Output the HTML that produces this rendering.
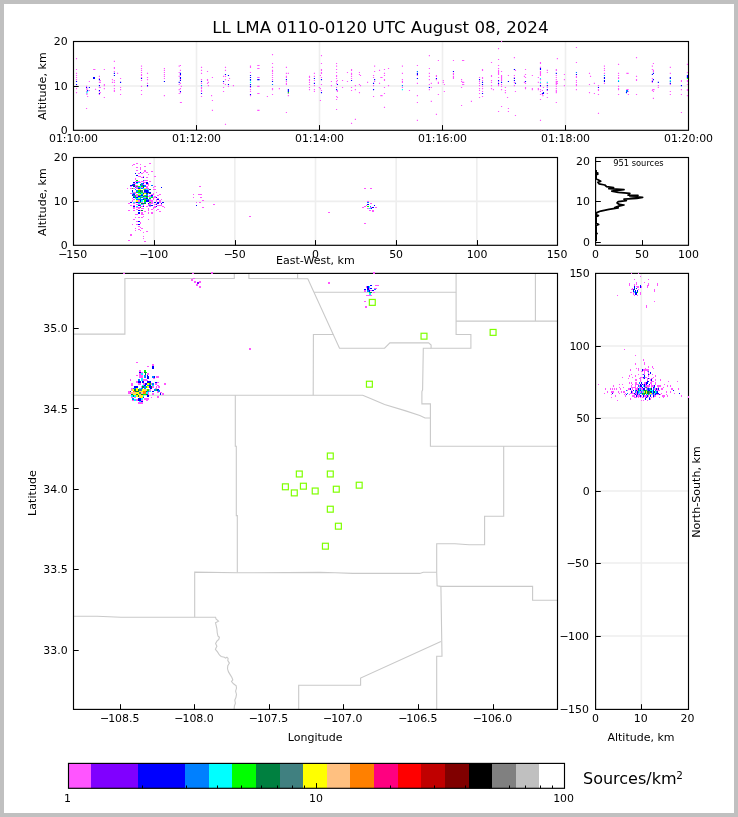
<!DOCTYPE html>
<html lang="en"><head><meta charset="utf-8"><title>LL LMA 0110-0120 UTC August 08, 2024</title>
<style>html,body{margin:0;padding:0;background:#c0c0c0}svg{display:block}text{white-space:pre}</style></head>
<body>
<svg width="738" height="817" viewBox="0 0 738 817" font-family="'DejaVu Sans', 'Liberation Sans', sans-serif" font-size="10.95" fill="#000">
<rect x="0" y="0" width="738" height="817" fill="#c0c0c0"/>
<rect x="4" y="4" width="730" height="809" fill="#fff"/>
<line x1="196.5" y1="41.5" x2="196.5" y2="130.3" stroke="#eeeeee" stroke-width="1.6"/>
<line x1="319.5" y1="41.5" x2="319.5" y2="130.3" stroke="#eeeeee" stroke-width="1.6"/>
<line x1="442.5" y1="41.5" x2="442.5" y2="130.3" stroke="#eeeeee" stroke-width="1.6"/>
<line x1="565.5" y1="41.5" x2="565.5" y2="130.3" stroke="#eeeeee" stroke-width="1.6"/>
<line x1="73.5" y1="86.05" x2="688.5" y2="86.05" stroke="#eeeeee" stroke-width="1.6"/>
<rect x="73.5" y="41.5" width="615" height="88.8" fill="none" stroke="#000" stroke-width="1.15"/>
<path fill="#ff55ff" d="M75.94 58.03h1.15v1.15h-1.15zM75.94 68.96h1.15v1.15h-1.15zM75.94 72.83h1.15v1.15h-1.15zM75.94 74.94h1.15v1.15h-1.15zM75.94 76.88h1.15v1.15h-1.15zM75.94 79h1.15v1.15h-1.15zM75.94 85.87h1.15v1.15h-1.15zM75.94 87.98h1.15v1.15h-1.15zM75.94 92.03h1.15v1.15h-1.15zM85.98 85.87h1.15v1.15h-1.15zM86.34 87.98h1.15v1.15h-1.15zM86.34 89.04h1.15v1.15h-1.15zM85.98 90.97h1.15v1.15h-1.15zM86.34 92.91h1.15v1.15h-1.15zM86.34 93.97h1.15v1.15h-1.15zM87.04 95.91h1.15v1.15h-1.15zM85.98 107.88h1.15v1.15h-1.15zM88.8 80.93h1.15v1.15h-1.15zM88.8 89.92h1.15v1.15h-1.15zM93.13 68.96h2.3v1.15h-2.3zM94.97 88.86h1.15v1.15h-1.15zM98.84 75.83h1.15v1.15h-1.15zM98.84 77.94h1.15v1.15h-1.15zM98.84 81.81h1.15v1.15h-1.15zM98.84 86.92h1.15v1.15h-1.15zM98.84 90.97h1.15v1.15h-1.15zM98.84 93.97h1.15v1.15h-1.15zM99.72 79.88h1.15v1.15h-1.15zM99.72 81.81h1.15v1.15h-1.15zM99.72 86.92h1.15v1.15h-1.15zM99.72 92.03h1.15v1.15h-1.15zM103.77 68.96h1.15v1.15h-1.15zM103.77 83.93h1.15v1.15h-1.15zM103.77 84.99h1.15v1.15h-1.15zM103.77 87.98h1.15v1.15h-1.15zM103.77 96.96h1.15v1.15h-1.15zM111.88 79h1.15v1.15h-1.15zM111.88 81.81h1.15v1.15h-1.15zM113.81 60.85h1.15v1.15h-1.15zM113.81 67.02h1.15v1.15h-1.15zM113.81 67.9h1.15v1.15h-1.15zM113.81 70.89h1.15v1.15h-1.15zM113.81 79.88h1.15v1.15h-1.15zM113.81 81.81h1.15v1.15h-1.15zM113.81 84.99h1.15v1.15h-1.15zM113.81 87.98h1.15v1.15h-1.15zM113.81 89.92h1.15v1.15h-1.15zM113.81 90.97h1.15v1.15h-1.15zM116.99 72.83h1.15v1.15h-1.15zM119.98 77.94h1.15v1.15h-1.15zM119.98 86.92h1.15v1.15h-1.15zM119.98 89.04h1.15v1.15h-1.15zM119.98 93.97h1.15v1.15h-1.15zM140.94 65.61h1.15v1.15h-1.15zM140.94 67.9h1.15v1.15h-1.15zM140.94 69.84h1.15v1.15h-1.15zM140.94 71.95h1.15v1.15h-1.15zM140.94 73.89h1.15v1.15h-1.15zM140.94 74.94h1.15v1.15h-1.15zM140.94 76.88h1.15v1.15h-1.15zM140.94 79.88h1.15v1.15h-1.15zM140.94 85.87h1.15v1.15h-1.15zM140.94 89.92h1.15v1.15h-1.15zM140.94 93.97h1.15v1.15h-1.15zM146.93 72.83h1.15v1.15h-1.15zM146.93 76.88h1.15v1.15h-1.15zM146.93 79h1.15v1.15h-1.15zM146.93 82.87h1.15v1.15h-1.15zM146.93 85.87h1.15v1.15h-1.15zM163.84 67.9h1.15v1.15h-1.15zM163.84 69.84h1.15v1.15h-1.15zM163.84 71.95h1.15v1.15h-1.15zM163.84 73.89h1.15v1.15h-1.15zM163.84 75.83h1.15v1.15h-1.15zM163.84 77.94h1.15v1.15h-1.15zM163.84 95.03h1.15v1.15h-1.15zM179.87 64.9h1.15v1.15h-1.15zM178.64 65.61h1.15v1.15h-1.15zM179.87 69.84h1.15v1.15h-1.15zM178.64 71.95h1.15v1.15h-1.15zM179.87 74.94h1.15v1.15h-1.15zM178.64 75.83h1.15v1.15h-1.15zM179.87 79h1.15v1.15h-1.15zM179.87 82.87h1.15v1.15h-1.15zM178.64 83.93h1.15v1.15h-1.15zM180.75 85.87h1.15v1.15h-1.15zM179.87 87.98h1.15v1.15h-1.15zM178.64 89.04h1.15v1.15h-1.15zM179.87 92.03h1.15v1.15h-1.15zM178.64 92.91h1.15v1.15h-1.15zM179.87 101.9h1.15v1.15h-1.15zM180.75 101.9h1.15v1.15h-1.15zM200.94 66.84h1.15v1.15h-1.15zM200.94 69.84h1.15v1.15h-1.15zM200.94 72.83h1.15v1.15h-1.15zM200.94 79h1.15v1.15h-1.15zM200.94 82.87h1.15v1.15h-1.15zM200.94 86.92h1.15v1.15h-1.15zM200.94 87.98h1.15v1.15h-1.15zM200.94 89.92h1.15v1.15h-1.15zM200.94 90.97h1.15v1.15h-1.15zM200.94 95.91h1.15v1.15h-1.15zM206.93 70.89h1.15v1.15h-1.15zM206.93 79h1.15v1.15h-1.15zM206.93 79.88h1.15v1.15h-1.15zM207.81 81.81h1.15v1.15h-1.15zM206.93 82.87h1.15v1.15h-1.15zM207.81 84.99h1.15v1.15h-1.15zM211.86 76.88h1.15v1.15h-1.15zM211.86 99.96h1.15v1.15h-1.15zM211.86 109.82h1.15v1.15h-1.15zM210.98 95.03h1.15v1.15h-1.15zM222.96 75.83h1.15v1.15h-1.15zM222.96 82.87h1.15v1.15h-1.15zM222.96 86.92h1.15v1.15h-1.15zM222.96 90.97h1.15v1.15h-1.15zM224.9 66.84h1.15v1.15h-1.15zM224.9 69.84h1.15v1.15h-1.15zM224.9 75.83h1.15v1.15h-1.15zM224.9 79h1.15v1.15h-1.15zM224.9 83.93h1.15v1.15h-1.15zM224.9 123.74h1.15v1.15h-1.15zM227.89 79.88h1.15v1.15h-1.15zM227.89 85.87h1.15v1.15h-1.15zM228.95 77.94h1.15v1.15h-1.15zM232.83 84.99h1.15v1.15h-1.15zM249.91 65.61h1.15v1.15h-1.15zM249.91 66.84h1.15v1.15h-1.15zM249.91 71.95h1.15v1.15h-1.15zM249.91 86.92h1.15v1.15h-1.15zM249.91 89.04h1.15v1.15h-1.15zM249.91 90.97h1.15v1.15h-1.15zM249.91 95.03h1.15v1.15h-1.15zM257.24 64.9h2.3v1.15h-2.3zM257.24 67.9h2.3v1.15h-2.3zM257.24 76.88h2.3v1.15h-2.3zM257.24 85.87h2.3v1.15h-2.3zM257.24 92.91h2.3v1.15h-2.3zM257.24 109.82h2.3v1.15h-2.3zM271.93 53.98h1.15v1.15h-1.15zM271.93 62.97h1.15v1.15h-1.15zM271.93 66.84h1.15v1.15h-1.15zM271.93 69.84h1.15v1.15h-1.15zM271.93 70.89h1.15v1.15h-1.15zM271.93 72.83h1.15v1.15h-1.15zM271.93 74.94h1.15v1.15h-1.15zM271.93 76.88h1.15v1.15h-1.15zM271.93 79h1.15v1.15h-1.15zM271.93 87.98h1.15v1.15h-1.15zM271.93 89.04h1.15v1.15h-1.15zM271.93 93.97h1.15v1.15h-1.15zM266.82 95.91h1.15v1.15h-1.15zM278.8 87.98h1.15v1.15h-1.15zM285.85 66.84h1.15v1.15h-1.15zM285.85 72.83h1.15v1.15h-1.15zM285.85 75.83h1.15v1.15h-1.15zM285.85 76.88h1.15v1.15h-1.15zM285.85 80.93h1.15v1.15h-1.15zM285.85 82.87h1.15v1.15h-1.15zM285.85 83.93h1.15v1.15h-1.15zM285.85 111.94h1.15v1.15h-1.15zM287.78 72.83h1.15v1.15h-1.15zM287.78 92.91h1.15v1.15h-1.15zM287.78 95.03h1.15v1.15h-1.15zM308.92 75.83h1.15v1.15h-1.15zM308.92 76.88h1.15v1.15h-1.15zM308.92 79h1.15v1.15h-1.15zM308.92 79.88h1.15v1.15h-1.15zM308.92 81.81h1.15v1.15h-1.15zM308.92 83.93h1.15v1.15h-1.15zM308.92 86.92h1.15v1.15h-1.15zM308.92 89.04h1.15v1.15h-1.15zM313.85 72.83h1.15v1.15h-1.15zM313.85 75.83h1.15v1.15h-1.15zM313.85 79.88h1.15v1.15h-1.15zM313.85 84.99h1.15v1.15h-1.15zM313.85 89.04h1.15v1.15h-1.15zM313.85 90.97h1.15v1.15h-1.15zM320.9 55.04h1.15v1.15h-1.15zM320.9 62.97h1.15v1.15h-1.15zM320.9 68.96h1.15v1.15h-1.15zM320.9 69.84h1.15v1.15h-1.15zM320.9 71.95h1.15v1.15h-1.15zM320.9 72.83h1.15v1.15h-1.15zM320.9 76.88h1.15v1.15h-1.15zM320.9 83.93h1.15v1.15h-1.15zM320.9 89.92h1.15v1.15h-1.15zM319.84 74.94h1.15v1.15h-1.15zM318.79 86.92h1.15v1.15h-1.15zM319.84 87.98h1.15v1.15h-1.15zM319.84 99.96h1.15v1.15h-1.15zM330.87 80.93h1.15v1.15h-1.15zM330.87 84.99h1.15v1.15h-1.15zM335.98 62.97h1.15v1.15h-1.15zM335.98 65.61h1.15v1.15h-1.15zM335.98 68.96h1.15v1.15h-1.15zM335.98 71.95h1.15v1.15h-1.15zM335.98 74.94h1.15v1.15h-1.15zM335.98 75.83h1.15v1.15h-1.15zM335.98 77.94h1.15v1.15h-1.15zM335.98 80.93h1.15v1.15h-1.15zM335.98 82.87h1.15v1.15h-1.15zM335.98 86.92h1.15v1.15h-1.15zM335.98 95.91h1.15v1.15h-1.15zM335.98 98.9h1.15v1.15h-1.15zM335.98 108.94h1.15v1.15h-1.15zM336.86 79.88h1.15v1.15h-1.15zM336.86 89.92h1.15v1.15h-1.15zM336.86 90.97h1.15v1.15h-1.15zM336.86 96.96h1.15v1.15h-1.15zM341.97 79.88h1.15v1.15h-1.15zM341.97 86.92h1.15v1.15h-1.15zM346.9 71.95h1.15v1.15h-1.15zM346.9 80.93h1.15v1.15h-1.15zM350.96 68.96h1.15v1.15h-1.15zM350.96 69.84h1.15v1.15h-1.15zM350.96 72.83h1.15v1.15h-1.15zM350.96 73.89h1.15v1.15h-1.15zM350.96 75.83h1.15v1.15h-1.15zM350.96 77.94h1.15v1.15h-1.15zM350.96 86.92h1.15v1.15h-1.15zM350.96 89.92h1.15v1.15h-1.15zM350.96 122.86h1.15v1.15h-1.15zM354.83 84.99h1.15v1.15h-1.15zM354.83 89.04h1.15v1.15h-1.15zM354.83 118.81h1.15v1.15h-1.15zM358.88 71.95h1.15v1.15h-1.15zM358.88 73.89h1.15v1.15h-1.15zM359.94 74.94h1.15v1.15h-1.15zM358.88 83.93h1.15v1.15h-1.15zM359.94 84.99h1.15v1.15h-1.15zM358.88 92.03h1.15v1.15h-1.15zM366.99 81.81h1.15v1.15h-1.15zM374.03 65.61h1.15v1.15h-1.15zM374.03 70.89h1.15v1.15h-1.15zM372.97 74.94h1.15v1.15h-1.15zM372.97 76.88h1.15v1.15h-1.15zM374.03 80.93h1.15v1.15h-1.15zM372.97 84.99h1.15v1.15h-1.15zM372.97 95.91h1.15v1.15h-1.15zM378.96 69.84h1.15v1.15h-1.15zM378.96 82.87h1.15v1.15h-1.15zM380.3 76.88h2.3v1.15h-2.3zM380.3 95.03h2.3v1.15h-2.3zM383.9 68.96h1.15v1.15h-1.15zM383.9 72.83h1.15v1.15h-1.15zM383.9 74.94h1.15v1.15h-1.15zM383.9 79h1.15v1.15h-1.15zM383.9 79.88h1.15v1.15h-1.15zM383.9 86.92h1.15v1.15h-1.15zM383.9 92.91h1.15v1.15h-1.15zM383.9 106.83h1.15v1.15h-1.15zM387.95 67.9h1.15v1.15h-1.15zM387.95 84.99h1.15v1.15h-1.15zM401.86 65.61h1.15v1.15h-1.15zM401.86 72.83h1.15v1.15h-1.15zM401.86 79h1.15v1.15h-1.15zM401.86 80.93h1.15v1.15h-1.15zM401.86 81.81h1.15v1.15h-1.15zM401.86 86.92h1.15v1.15h-1.15zM408.91 89.92h1.15v1.15h-1.15zM416.84 64.9h1.15v1.15h-1.15zM416.84 74.94h1.15v1.15h-1.15zM416.84 82.87h1.15v1.15h-1.15zM416.84 95.03h1.15v1.15h-1.15zM416.84 101.9h1.15v1.15h-1.15zM416.84 119.86h1.15v1.15h-1.15zM428.81 55.04h1.15v1.15h-1.15zM428.81 67.9h1.15v1.15h-1.15zM428.81 72.83h1.15v1.15h-1.15zM428.81 75.83h1.15v1.15h-1.15zM428.81 79h1.15v1.15h-1.15zM428.81 83.93h1.15v1.15h-1.15zM428.81 89.04h1.15v1.15h-1.15zM430.75 82.87h1.15v1.15h-1.15zM430.75 86.92h1.15v1.15h-1.15zM430.75 100.84h1.15v1.15h-1.15zM435.86 74.94h1.15v1.15h-1.15zM435.86 75.83h1.15v1.15h-1.15zM435.86 79h1.15v1.15h-1.15zM435.86 113.87h1.15v1.15h-1.15zM437.8 59.97h1.15v1.15h-1.15zM437.8 81.81h1.15v1.15h-1.15zM437.8 82.87h1.15v1.15h-1.15zM437.8 93.97h1.15v1.15h-1.15zM442.73 79.88h1.15v1.15h-1.15zM442.73 81.81h1.15v1.15h-1.15zM443.79 83.93h1.15v1.15h-1.15zM443.79 90.97h1.15v1.15h-1.15zM452.88 59.97h1.15v1.15h-1.15zM452.88 72.83h1.15v1.15h-1.15zM452.88 73.89h1.15v1.15h-1.15zM452.88 75.83h1.15v1.15h-1.15zM452.88 76.88h1.15v1.15h-1.15zM452.88 77.94h1.15v1.15h-1.15zM461.96 59.97h2.3v1.15h-2.3zM460.98 79h1.15v1.15h-1.15zM460.98 80.93h1.15v1.15h-1.15zM461.96 81.81h2.3v1.15h-2.3zM461.96 83.93h2.3v1.15h-2.3zM460.98 86.92h1.15v1.15h-1.15zM460.98 104.89h1.15v1.15h-1.15zM470.85 100.84h1.15v1.15h-1.15zM478.95 76.88h1.15v1.15h-1.15zM478.95 80.93h1.15v1.15h-1.15zM478.95 82.87h1.15v1.15h-1.15zM478.95 84.99h1.15v1.15h-1.15zM478.95 87.98h1.15v1.15h-1.15zM478.95 89.92h1.15v1.15h-1.15zM478.95 92.91h1.15v1.15h-1.15zM478.95 96.96h1.15v1.15h-1.15zM481.94 68.96h1.15v1.15h-1.15zM481.94 69.84h1.15v1.15h-1.15zM481.94 76.88h1.15v1.15h-1.15zM481.94 77.94h1.15v1.15h-1.15zM481.94 79.88h1.15v1.15h-1.15zM481.94 85.87h1.15v1.15h-1.15zM481.94 87.98h1.15v1.15h-1.15zM481.94 90.97h1.15v1.15h-1.15zM481.94 95.91h1.15v1.15h-1.15zM490.93 61.91h1.15v1.15h-1.15zM490.93 74.94h1.15v1.15h-1.15zM490.93 75.83h1.15v1.15h-1.15zM490.93 79.88h1.15v1.15h-1.15zM490.93 81.81h1.15v1.15h-1.15zM490.93 84.99h1.15v1.15h-1.15zM490.93 87.98h1.15v1.15h-1.15zM492.87 89.04h1.15v1.15h-1.15zM497.97 47.99h1.15v1.15h-1.15zM497.97 58.92h1.15v1.15h-1.15zM497.97 64.9h1.15v1.15h-1.15zM497.97 67.9h1.15v1.15h-1.15zM497.97 69.84h1.15v1.15h-1.15zM497.97 70.89h1.15v1.15h-1.15zM497.97 71.95h1.15v1.15h-1.15zM497.97 72.83h1.15v1.15h-1.15zM497.97 73.89h1.15v1.15h-1.15zM497.97 76.88h1.15v1.15h-1.15zM497.97 80.93h1.15v1.15h-1.15zM497.97 83.93h1.15v1.15h-1.15zM497.97 84.99h1.15v1.15h-1.15zM497.97 110.88h1.15v1.15h-1.15zM500.97 40.95h1.15v1.15h-1.15zM500.97 70.89h1.15v1.15h-1.15zM500.97 74.94h1.15v1.15h-1.15zM500.97 75.83h1.15v1.15h-1.15zM500.97 76.88h1.15v1.15h-1.15zM500.97 77.94h1.15v1.15h-1.15zM500.97 79h1.15v1.15h-1.15zM500.97 79.88h1.15v1.15h-1.15zM500.97 83.93h1.15v1.15h-1.15zM500.97 85.87h1.15v1.15h-1.15zM500.97 89.04h1.15v1.15h-1.15zM500.97 105.95h1.15v1.15h-1.15zM504.84 86.92h1.15v1.15h-1.15zM504.84 89.92h1.15v1.15h-1.15zM504.84 92.03h1.15v1.15h-1.15zM506.96 96.96h1.15v1.15h-1.15zM507.84 74.94h1.15v1.15h-1.15zM507.84 107.88h1.15v1.15h-1.15zM507.84 110.88h1.15v1.15h-1.15zM513.83 56.98h1.15v1.15h-1.15zM514.88 69.84h1.15v1.15h-1.15zM513.83 74.94h1.15v1.15h-1.15zM513.83 76.88h1.15v1.15h-1.15zM513.83 81.81h1.15v1.15h-1.15zM513.83 84.99h1.15v1.15h-1.15zM514.88 90.97h1.15v1.15h-1.15zM514.88 114.93h1.15v1.15h-1.15zM524.93 68.96h1.15v1.15h-1.15zM524.93 73.89h1.15v1.15h-1.15zM523.87 75.83h1.15v1.15h-1.15zM524.93 76.88h1.15v1.15h-1.15zM523.87 81.81h1.15v1.15h-1.15zM524.93 82.87h1.15v1.15h-1.15zM524.93 86.92h1.15v1.15h-1.15zM524.93 87.98h1.15v1.15h-1.15zM531.8 74.94h1.15v1.15h-1.15zM531.8 87.98h1.15v1.15h-1.15zM531.8 89.04h1.15v1.15h-1.15zM537.78 76.88h1.15v1.15h-1.15zM537.78 81.81h1.15v1.15h-1.15zM537.78 87.98h1.15v1.15h-1.15zM537.78 89.04h1.15v1.15h-1.15zM539.9 61.91h1.15v1.15h-1.15zM539.9 62.97h1.15v1.15h-1.15zM539.9 66.84h1.15v1.15h-1.15zM539.9 70.89h1.15v1.15h-1.15zM539.9 71.95h1.15v1.15h-1.15zM539.9 72.83h1.15v1.15h-1.15zM539.9 73.89h1.15v1.15h-1.15zM539.9 74.94h1.15v1.15h-1.15zM539.9 79h1.15v1.15h-1.15zM539.9 82.87h1.15v1.15h-1.15zM539.9 85.87h1.15v1.15h-1.15zM539.9 89.04h1.15v1.15h-1.15zM539.9 90.97h1.15v1.15h-1.15zM539.9 93.97h1.15v1.15h-1.15zM539.9 98.9h1.15v1.15h-1.15zM539.9 119.86h1.15v1.15h-1.15zM542.89 86.92h1.15v1.15h-1.15zM541.84 89.92h1.15v1.15h-1.15zM541.84 93.97h1.15v1.15h-1.15zM542.36 95.03h1.15v1.15h-1.15zM546.77 69.84h1.15v1.15h-1.15zM546.77 71.95h1.15v1.15h-1.15zM546.77 82.87h1.15v1.15h-1.15zM546.77 86.92h1.15v1.15h-1.15zM546.77 89.92h1.15v1.15h-1.15zM546.77 92.91h1.15v1.15h-1.15zM546.77 96.96h1.15v1.15h-1.15zM555.75 68.96h1.15v1.15h-1.15zM555.75 69.84h1.15v1.15h-1.15zM555.75 74.94h1.15v1.15h-1.15zM555.75 76.88h1.15v1.15h-1.15zM555.75 79h1.15v1.15h-1.15zM555.68 80.93h2.3v1.15h-2.3zM555.75 81.81h1.15v1.15h-1.15zM555.68 82.87h2.3v1.15h-2.3zM555.75 83.93h1.15v1.15h-1.15zM555.75 85.87h1.15v1.15h-1.15zM555.75 87.98h1.15v1.15h-1.15zM555.75 89.92h1.15v1.15h-1.15zM555.75 90.97h1.15v1.15h-1.15zM555.75 92.03h1.15v1.15h-1.15zM555.75 101.9h1.15v1.15h-1.15zM556.81 58.03h1.15v1.15h-1.15zM563.85 73.89h1.15v1.15h-1.15zM563.85 79h1.15v1.15h-1.15zM563.85 84.99h1.15v1.15h-1.15zM575.87 46.94h1.15v1.15h-1.15zM575.87 61.91h1.15v1.15h-1.15zM575.87 75.83h1.15v1.15h-1.15zM575.87 76.88h1.15v1.15h-1.15zM575.87 79.88h1.15v1.15h-1.15zM575.87 81.81h1.15v1.15h-1.15zM575.87 83.93h1.15v1.15h-1.15zM575.87 84.99h1.15v1.15h-1.15zM575.87 89.04h1.15v1.15h-1.15zM588.91 72.83h1.15v1.15h-1.15zM588.91 83.93h1.15v1.15h-1.15zM588.91 92.03h1.15v1.15h-1.15zM589.97 75.83h1.15v1.15h-1.15zM593.84 82.87h1.15v1.15h-1.15zM593.84 92.91h1.15v1.15h-1.15zM597.89 84.99h1.15v1.15h-1.15zM597.89 89.04h1.15v1.15h-1.15zM597.89 89.92h1.15v1.15h-1.15zM597.89 93.97h1.15v1.15h-1.15zM597.89 112.82h1.15v1.15h-1.15zM603.88 65.61h1.15v1.15h-1.15zM603.88 67.9h1.15v1.15h-1.15zM603.88 69.84h1.15v1.15h-1.15zM603.88 72.83h1.15v1.15h-1.15zM603.88 82.87h1.15v1.15h-1.15zM617.97 63.85h1.15v1.15h-1.15zM617.97 72.83h1.15v1.15h-1.15zM617.97 74.94h1.15v1.15h-1.15zM617.97 76.88h1.15v1.15h-1.15zM617.97 77.94h1.15v1.15h-1.15zM617.97 85.87h1.15v1.15h-1.15zM617.97 87.98h1.15v1.15h-1.15zM617.97 89.04h1.15v1.15h-1.15zM617.97 93.97h1.15v1.15h-1.15zM626.35 72.83h2.3v1.15h-2.3zM626.35 89.04h2.3v1.15h-2.3zM627.84 90.97h1.15v1.15h-1.15zM627.84 93.97h1.15v1.15h-1.15zM635.94 56.98h1.15v1.15h-1.15zM635.94 75.83h1.15v1.15h-1.15zM635.94 79h1.15v1.15h-1.15zM635.94 79.88h1.15v1.15h-1.15zM635.94 93.97h1.15v1.15h-1.15zM652.85 62.97h1.15v1.15h-1.15zM651.8 65.61h1.15v1.15h-1.15zM651.8 68.96h1.15v1.15h-1.15zM652.85 69.84h1.15v1.15h-1.15zM652.85 70.89h1.15v1.15h-1.15zM651.8 77.94h1.15v1.15h-1.15zM651.8 79.88h1.15v1.15h-1.15zM651.8 81.81h1.15v1.15h-1.15zM652.25 89.04h2.3v1.15h-2.3zM651.8 89.92h1.15v1.15h-1.15zM652.85 90.97h1.15v1.15h-1.15zM652.85 97.84h1.15v1.15h-1.15zM657.78 84.99h1.15v1.15h-1.15zM657.78 86.92h1.15v1.15h-1.15zM669.76 66.84h1.15v1.15h-1.15zM669.76 72.83h1.15v1.15h-1.15zM669.76 83.93h1.15v1.15h-1.15zM669.76 90.97h1.15v1.15h-1.15zM669.76 93.97h1.15v1.15h-1.15zM680.86 79.88h1.15v1.15h-1.15zM680.86 80.93h1.15v1.15h-1.15zM680.86 89.04h1.15v1.15h-1.15zM680.86 93.97h1.15v1.15h-1.15zM680.86 111.94h1.15v1.15h-1.15zM686.85 63.85h1.15v1.15h-1.15zM686.85 71.95h1.15v1.15h-1.15zM686.85 79.88h1.15v1.15h-1.15zM686.85 80.93h1.15v1.15h-1.15zM686.85 83.93h1.15v1.15h-1.15zM686.85 89.04h1.15v1.15h-1.15zM686.85 89.92h1.15v1.15h-1.15zM686.85 95.03h1.15v1.15h-1.15z"/>
<path fill="#0000ff" d="M75.94 80.93h1.15v1.15h-1.15zM75.94 83.93h1.15v1.15h-1.15zM85.98 86.92h1.15v1.15h-1.15zM87.04 89.92h1.15v1.15h-1.15zM88.8 86.92h1.15v1.15h-1.15zM98.84 79h1.15v1.15h-1.15zM98.84 84.99h1.15v1.15h-1.15zM98.84 89.92h1.15v1.15h-1.15zM98.84 92.91h1.15v1.15h-1.15zM113.81 72.83h1.15v1.15h-1.15zM113.81 74.94h1.15v1.15h-1.15zM119.98 81.81h1.15v1.15h-1.15zM140.94 77.94h1.15v1.15h-1.15zM146.93 84.99h1.15v1.15h-1.15zM163.84 80.93h1.15v1.15h-1.15zM179.87 72.83h1.15v1.15h-1.15zM179.87 73.89h1.15v1.15h-1.15zM179.87 76.88h1.15v1.15h-1.15zM179.87 77.94h1.15v1.15h-1.15zM179.87 79.88h1.15v1.15h-1.15zM178.64 81.81h1.15v1.15h-1.15zM179.87 90.97h1.15v1.15h-1.15zM200.94 80.93h1.15v1.15h-1.15zM200.94 92.91h1.15v1.15h-1.15zM222.96 80.93h1.15v1.15h-1.15zM224.9 73.89h1.15v1.15h-1.15zM227.89 74.94h1.15v1.15h-1.15zM227.89 83.93h1.15v1.15h-1.15zM249.91 74.94h1.15v1.15h-1.15zM249.91 76.88h1.15v1.15h-1.15zM249.91 79h1.15v1.15h-1.15zM249.91 83.93h1.15v1.15h-1.15zM249.91 85.87h1.15v1.15h-1.15zM249.91 93.97h1.15v1.15h-1.15zM257.24 79h2.3v1.15h-2.3zM271.93 80.93h1.15v1.15h-1.15zM285.85 79h1.15v1.15h-1.15zM287.78 89.04h1.15v1.15h-1.15zM287.78 89.92h1.15v1.15h-1.15zM287.78 90.97h1.15v1.15h-1.15zM313.85 77.94h1.15v1.15h-1.15zM313.85 82.87h1.15v1.15h-1.15zM320.9 79h1.15v1.15h-1.15zM320.9 92.03h1.15v1.15h-1.15zM335.98 89.04h1.15v1.15h-1.15zM336.86 83.93h1.15v1.15h-1.15zM350.96 79.88h1.15v1.15h-1.15zM374.03 79h1.15v1.15h-1.15zM372.97 82.87h1.15v1.15h-1.15zM372.97 89.04h1.15v1.15h-1.15zM416.84 72.83h1.15v1.15h-1.15zM416.84 73.89h1.15v1.15h-1.15zM416.84 77.94h1.15v1.15h-1.15zM428.81 86.92h1.15v1.15h-1.15zM435.86 77.94h1.15v1.15h-1.15zM452.88 70.89h1.15v1.15h-1.15zM478.95 79h1.15v1.15h-1.15zM481.94 81.81h1.15v1.15h-1.15zM481.94 83.93h1.15v1.15h-1.15zM481.94 92.91h1.15v1.15h-1.15zM497.97 79.88h1.15v1.15h-1.15zM497.97 82.87h1.15v1.15h-1.15zM500.97 81.81h1.15v1.15h-1.15zM507.84 80.93h1.15v1.15h-1.15zM513.83 68.96h1.15v1.15h-1.15zM513.83 77.94h1.15v1.15h-1.15zM513.83 79.88h1.15v1.15h-1.15zM514.88 82.87h1.15v1.15h-1.15zM524.93 80.93h1.15v1.15h-1.15zM539.9 67.9h1.15v1.15h-1.15zM539.9 68.96h1.15v1.15h-1.15zM539.9 84.99h1.15v1.15h-1.15zM542.89 92.03h1.15v1.15h-1.15zM541.84 92.91h1.15v1.15h-1.15zM542.89 92.91h1.15v1.15h-1.15zM546.77 84.99h1.15v1.15h-1.15zM546.77 89.04h1.15v1.15h-1.15zM555.75 72.83h1.15v1.15h-1.15zM575.87 73.89h1.15v1.15h-1.15zM597.89 86.92h1.15v1.15h-1.15zM603.88 76.88h1.15v1.15h-1.15zM603.88 77.94h1.15v1.15h-1.15zM603.88 79.88h1.15v1.15h-1.15zM603.88 80.93h1.15v1.15h-1.15zM625.9 92.03h1.15v1.15h-1.15zM652.85 72.83h1.15v1.15h-1.15zM651.8 73.89h1.15v1.15h-1.15zM652.85 79h1.15v1.15h-1.15zM651.8 80.93h1.15v1.15h-1.15zM657.78 81.81h1.15v1.15h-1.15zM669.76 76.88h1.15v1.15h-1.15zM669.76 77.94h1.15v1.15h-1.15zM669.76 82.87h1.15v1.15h-1.15zM680.86 84.99h1.15v1.15h-1.15zM686.85 74.94h1.15v1.15h-1.15zM686.85 75.83h1.15v1.15h-1.15zM686.85 76.88h1.15v1.15h-1.15z"/>
<path fill="#00ffff" d="M87.04 90.97h1.15v1.15h-1.15zM86.34 92.03h1.15v1.15h-1.15zM249.91 81.81h1.15v1.15h-1.15zM401.86 89.04h1.15v1.15h-1.15zM539.9 77.94h1.15v1.15h-1.15zM539.9 81.81h1.15v1.15h-1.15zM546.77 81.81h1.15v1.15h-1.15zM617.97 79.88h1.15v1.15h-1.15zM669.76 79.88h1.15v1.15h-1.15z"/>
<path fill="#0080ff" d="M200.94 84.99h1.15v1.15h-1.15zM249.91 79.88h1.15v1.15h-1.15zM271.93 83.93h1.15v1.15h-1.15zM401.86 84.99h1.15v1.15h-1.15zM416.84 70.89h1.15v1.15h-1.15zM575.87 71.95h1.15v1.15h-1.15zM603.88 74.94h1.15v1.15h-1.15zM617.97 80.93h1.15v1.15h-1.15zM669.76 80.93h1.15v1.15h-1.15z"/>
<path fill="#00ff00" d="M287.78 92.03h1.15v1.15h-1.15zM686.85 77.94h1.15v1.15h-1.15z"/>
<path fill="#0000ff" shape-rendering="crispEdges" d="M92.68 76.89h2.2v2.2h-2.2z"/>
<path fill="#0080ff" shape-rendering="crispEdges" d="M625.9 89.92h2.2v2.2h-2.2z"/>
<text x="73.5" y="142.2" text-anchor="middle">01:10:00</text>
<line x1="196.5" y1="130.3" x2="196.5" y2="125.1" stroke="#000" stroke-width="1"/>
<text x="196.5" y="142.2" text-anchor="middle">01:12:00</text>
<line x1="319.5" y1="130.3" x2="319.5" y2="125.1" stroke="#000" stroke-width="1"/>
<text x="319.5" y="142.2" text-anchor="middle">01:14:00</text>
<line x1="442.5" y1="130.3" x2="442.5" y2="125.1" stroke="#000" stroke-width="1"/>
<text x="442.5" y="142.2" text-anchor="middle">01:16:00</text>
<line x1="565.5" y1="130.3" x2="565.5" y2="125.1" stroke="#000" stroke-width="1"/>
<text x="565.5" y="142.2" text-anchor="middle">01:18:00</text>
<text x="688.5" y="142.2" text-anchor="middle">01:20:00</text>
<text x="67.7" y="134" text-anchor="end">0</text>
<line x1="73.5" y1="86.5" x2="78.7" y2="86.5" stroke="#000" stroke-width="1"/>
<text x="67.7" y="90.05" text-anchor="end">10</text>
<text x="67.7" y="45.2" text-anchor="end">20</text>
<text x="45.8" y="86.1" text-anchor="middle" font-size="11.11" transform="rotate(-90 45.8 86.1)">Altitude, km</text>
<text x="380.4" y="33.1" text-anchor="middle" font-size="16.67">LL LMA 0110-0120 UTC August 08, 2024</text>
<line x1="154.17" y1="157.5" x2="154.17" y2="245.3" stroke="#eeeeee" stroke-width="1.6"/>
<line x1="234.83" y1="157.5" x2="234.83" y2="245.3" stroke="#eeeeee" stroke-width="1.6"/>
<line x1="315.5" y1="157.5" x2="315.5" y2="245.3" stroke="#eeeeee" stroke-width="1.6"/>
<line x1="396.17" y1="157.5" x2="396.17" y2="245.3" stroke="#eeeeee" stroke-width="1.6"/>
<line x1="476.83" y1="157.5" x2="476.83" y2="245.3" stroke="#eeeeee" stroke-width="1.6"/>
<line x1="73.5" y1="201.4" x2="557.5" y2="201.4" stroke="#eeeeee" stroke-width="1.6"/>
<rect x="73.5" y="157.5" width="484" height="87.8" fill="none" stroke="#000" stroke-width="1.15"/>
<path fill="#008040" shape-rendering="crispEdges" d="M149 189h2v1h-2zM141 203h2v1h-2zM143 196h1v1h-1zM149 193h2v1h-2zM133 185h2v1h-2zM143 193h1v1h-1zM140 190h1v2h-1zM140 184h1v1h-1zM143 203h1v1h-1zM146 196h2v1h-2zM146 193h2v1h-2zM143 186h1v1h-1zM144 203h2v1h-2zM141 210h2v1h-2z"/>
<path fill="#00ff00" shape-rendering="crispEdges" d="M138 186h2v1h-2zM138 190h2v2h-2zM135 197h1v1h-1zM140 207h1v1h-1zM136 180h2v1h-2zM149 198h2v1h-2zM141 192h2v1h-2zM140 197h1v1h-1zM144 199h2v1h-2zM136 192h2v1h-2zM146 197h2v1h-2zM144 196h2v1h-2zM140 193h1v1h-1zM144 200h2v2h-2zM151 197h2v1h-2zM132 188h1v1h-1zM141 186h2v1h-2zM138 195h2v1h-2zM135 196h1v1h-1zM149 202h2v1h-2zM140 202h1v1h-1z"/>
<path fill="#ff55ff" shape-rendering="crispEdges" d="M136 188h2v1h-2zM141 212h2v2h-2zM141 202h2v1h-2zM146 187h2v1h-2zM130 186h2v1h-2zM144 211h2v1h-2zM146 180h2v1h-2zM149 206h2v1h-2zM135 185h1v1h-1zM135 202h1v1h-1zM148 188h1v1h-1zM148 174h1v1h-1zM132 193h1v1h-1zM138 200h2v2h-2zM148 204h1v1h-1zM136 195h2v1h-2zM151 203h2v1h-2zM138 176h2v1h-2zM138 208h2v1h-2zM132 200h1v2h-1zM143 176h1v1h-1zM140 206h1v1h-1zM149 200h2v2h-2zM136 187h2v1h-2zM135 192h1v1h-1zM132 198h1v1h-1zM130 188h2v1h-2zM141 187h2v1h-2zM135 186h1v1h-1zM138 204h2v1h-2zM149 196h2v1h-2zM136 194h2v1h-2zM143 182h1v1h-1zM144 197h2v1h-2zM148 189h1v1h-1zM130 205h2v1h-2zM146 186h2v1h-2zM148 193h1v1h-1zM140 204h1v1h-1zM153 197h1v1h-1zM136 204h2v1h-2zM151 212h2v2h-2zM148 219h1v1h-1zM133 199h2v1h-2zM136 185h2v1h-2zM128 203h2v1h-2zM146 188h2v1h-2zM148 196h1v1h-1zM141 181h2v1h-2zM135 183h1v1h-1zM133 183h2v1h-2zM140 182h1v1h-1zM148 205h1v1h-1zM148 184h1v1h-1zM153 193h1v1h-1zM149 203h2v1h-2zM141 206h2v1h-2zM148 185h1v1h-1zM133 207h2v1h-2zM143 208h1v1h-1zM148 210h1v1h-1zM156 192h1v1h-1zM153 187h1v1h-1zM136 207h2v1h-2zM136 196h2v1h-2zM144 180h2v1h-2zM143 184h1v1h-1zM154 189h2v1h-2zM149 195h2v1h-2zM135 193h1v1h-1zM135 181h1v1h-1zM143 205h1v1h-1zM149 204h2v1h-2zM151 209h2v1h-2zM148 212h1v2h-1zM128 210h2v1h-2zM156 210h1v1h-1zM138 173h2v1h-2zM149 163h2v1h-2zM154 196h2v1h-2zM148 208h1v1h-1zM146 206h2v1h-2zM151 200h2v2h-2zM133 203h2v1h-2zM133 192h2v1h-2zM143 192h1v1h-1zM149 199h2v1h-2zM141 217h2v1h-2zM146 184h2v1h-2zM159 200h2v2h-2zM153 207h1v1h-1zM154 207h2v1h-2zM153 189h1v1h-1zM130 193h2v1h-2zM141 208h2v1h-2zM154 186h2v1h-2zM136 209h2v1h-2zM151 194h2v1h-2zM148 209h1v1h-1zM154 176h2v1h-2zM136 181h2v1h-2zM135 178h1v2h-1zM133 188h2v1h-2zM153 198h1v1h-1zM127 188h1v1h-1zM151 202h2v1h-2zM149 181h2v1h-2zM133 208h2v1h-2zM132 165h1v1h-1zM146 172h2v1h-2zM136 163h2v1h-2zM151 171h2v1h-2zM140 164h1v1h-1zM136 170h2v1h-2zM144 182h2v1h-2zM138 181h2v1h-2zM140 168h1v2h-1zM141 173h2v1h-2zM144 170h2v1h-2zM140 167h1v1h-1zM144 166h2v1h-2zM143 181h1v1h-1zM146 177h2v1h-2zM140 176h1v1h-1zM141 177h2v1h-2zM148 183h1v1h-1zM143 172h1v1h-1zM136 167h2v1h-2zM144 171h2v1h-2zM133 164h2v1h-2zM140 222h1v2h-1zM143 214h1v1h-1zM144 241h2v1h-2zM135 217h1v1h-1zM135 228h1v1h-1zM138 207h2v1h-2zM133 210h2v1h-2zM138 217h2v1h-2zM141 228h2v1h-2zM140 227h1v1h-1zM132 224h1v1h-1zM133 205h2v1h-2zM146 231h2v1h-2zM135 214h1v1h-1zM143 236h1v1h-1zM143 238h1v1h-1zM138 229h2v1h-2zM135 230h1v1h-1zM140 210h1v1h-1zM140 230h1v1h-1zM136 214h2v1h-2zM133 219h2v1h-2zM136 224h2v1h-2zM130 234h2v2h-2zM138 226h2v1h-2zM136 221h2v1h-2zM128 240h2v1h-2zM143 216h1v1h-1zM143 232h1v1h-1zM143 204h1v1h-1zM141 214h2v1h-2zM164 207h1v1h-1zM153 194h1v1h-1zM154 204h2v1h-2zM159 202h2v1h-2zM157 205h2v1h-2zM153 208h1v1h-1zM153 199h1v1h-1zM159 194h2v1h-2zM154 206h2v1h-2zM157 198h2v1h-2zM161 204h1v1h-1zM156 200h1v2h-1zM157 209h2v1h-2zM161 205h1v1h-1zM159 205h2v1h-2zM159 211h2v1h-2zM161 199h1v1h-1zM157 195h2v1h-2zM156 203h1v1h-1zM162 206h2v1h-2zM156 199h1v1h-1zM154 197h2v1h-2z"/>
<path fill="#408080" shape-rendering="crispEdges" d="M141 190h2v2h-2zM133 195h2v1h-2zM136 186h2v1h-2zM138 192h2v1h-2zM141 185h2v1h-2zM141 197h2v1h-2z"/>
<path fill="#0000ff" shape-rendering="crispEdges" d="M132 190h1v2h-1zM133 194h2v1h-2zM143 183h1v1h-1zM138 196h2v1h-2zM130 185h2v1h-2zM132 195h1v1h-1zM151 195h2v1h-2zM138 188h2v1h-2zM141 195h2v1h-2zM148 200h1v2h-1zM133 184h2v1h-2zM148 192h1v1h-1zM149 192h2v1h-2zM133 197h2v1h-2zM143 187h1v1h-1zM136 175h2v1h-2zM146 198h2v1h-2zM136 197h2v1h-2zM136 202h2v1h-2zM144 190h2v2h-2zM143 199h1v1h-1zM146 190h2v2h-2zM136 182h2v1h-2zM132 185h1v1h-1zM146 183h2v1h-2zM133 186h2v1h-2zM133 182h2v1h-2zM138 205h2v1h-2zM140 200h1v2h-1zM143 185h1v1h-1zM146 192h2v1h-2zM143 206h1v1h-1zM130 202h2v1h-2zM133 206h2v1h-2zM146 182h2v1h-2zM138 212h2v2h-2zM154 202h2v1h-2zM161 187h1v1h-1zM140 172h1v1h-1zM135 173h1v1h-1zM143 177h1v1h-1zM151 205h2v1h-2zM148 203h1v1h-1zM146 200h2v2h-2zM138 210h2v1h-2zM138 224h2v1h-2zM138 221h2v1h-2zM157 203h2v1h-2zM156 204h1v1h-1zM162 202h2v1h-2zM156 206h1v1h-1zM161 203h1v1h-1zM157 202h2v1h-2zM157 199h2v1h-2zM156 197h1v1h-1z"/>
<path fill="#00ffff" shape-rendering="crispEdges" d="M146 189h2v1h-2zM143 188h1v1h-1zM140 186h1v1h-1zM141 196h2v1h-2zM138 193h2v1h-2zM136 206h2v1h-2zM141 193h2v1h-2zM141 200h2v2h-2zM140 188h1v1h-1zM143 197h1v1h-1zM149 197h2v1h-2zM132 192h1v1h-1zM133 202h2v1h-2zM141 204h2v1h-2zM138 203h2v1h-2zM140 187h1v1h-1zM138 197h2v1h-2zM135 198h1v1h-1zM138 182h2v1h-2zM136 198h2v1h-2zM136 183h2v1h-2z"/>
<path fill="#ffff00" shape-rendering="crispEdges" d="M138 198h2v1h-2zM138 189h2v1h-2zM143 189h1v1h-1zM140 189h1v1h-1zM138 194h2v1h-2zM140 194h1v1h-1zM143 194h1v1h-1zM144 193h2v1h-2zM136 200h2v2h-2zM144 188h2v1h-2zM143 195h1v1h-1z"/>
<path fill="#0080ff" shape-rendering="crispEdges" d="M140 195h1v1h-1zM140 198h1v1h-1zM141 199h2v1h-2zM133 193h2v1h-2zM151 185h2v1h-2zM140 196h1v1h-1zM146 194h2v1h-2zM148 199h1v1h-1zM149 205h2v1h-2zM132 194h1v1h-1zM143 180h1v1h-1zM132 184h1v1h-1zM144 195h2v1h-2zM144 202h2v1h-2zM140 185h1v1h-1zM144 189h2v1h-2zM138 199h2v1h-2zM135 187h1v1h-1zM141 184h2v1h-2zM143 198h1v1h-1zM141 188h2v1h-2zM136 190h2v2h-2zM135 189h1v1h-1zM140 192h1v1h-1zM133 196h2v1h-2zM141 194h2v1h-2zM146 195h2v1h-2zM146 199h2v1h-2zM144 185h2v1h-2zM138 187h2v1h-2zM140 205h1v1h-1zM135 195h1v1h-1zM144 192h2v1h-2zM140 199h1v1h-1zM144 186h2v1h-2zM148 190h1v2h-1zM136 199h2v1h-2zM138 202h2v1h-2zM144 198h2v1h-2zM141 183h2v1h-2zM151 196h2v1h-2z"/>
<path fill="#ff55ff" shape-rendering="crispEdges" d="M198.8 185.8h1.8v1h-1.8zM192.6 193.8h1.8v1h-1.8zM198.4 193.8h1.8v1h-1.8zM200 193.8h1.8v1h-1.8zM192.6 196.8h1.8v1h-1.8zM200.3 196.8h1.8v1h-1.8zM202.1 199.8h1.8v1h-1.8zM195.6 201.6h1.8v1h-1.8zM198.8 201.6h1.8v1h-1.8zM202.1 207h1.8v1h-1.8zM213.4 203.7h1.8v1h-1.8zM248.9 215.9h1.8v1h-1.8zM327.9 211.7h1.8v1h-1.8zM364.1 187.9h1.8v1h-1.8zM370.1 187.9h1.8v1h-1.8zM364.1 222.9h1.8v1h-1.8zM367.1 200.9h1.8v1h-1.8zM370.1 202.9h1.8v1h-1.8zM365.6 204.5h1.8v1h-1.8zM364.1 206.3h1.8v1h-1.8zM362.1 206.9h1.8v1h-1.8zM375.1 206.5h1.8v1h-1.8zM367.1 207.5h1.8v1h-1.8zM370.1 206.8h1.8v1h-1.8zM369.1 209.5h1.8v1h-1.8zM372.1 209.5h1.8v1h-1.8zM372.1 210.7h1.8v1h-1.8z"/>
<path fill="#0000ff" shape-rendering="crispEdges" d="M195.6 204.9h1.8v1h-1.8zM367.1 204h1.8v1h-1.8zM373.6 204.8h1.8v1h-1.8zM372.1 207h1.8v1h-1.8zM370.1 207.8h1.8v1h-1.8z"/>
<path fill="#0080ff" shape-rendering="crispEdges" d="M367.1 201.9h1.8v1h-1.8zM369.6 206.1h1.8v1h-1.8z"/>
<path fill="#00ff00" shape-rendering="crispEdges" d="M367.1 205.9h1.8v1h-1.8z"/>
<path fill="#00ffff" shape-rendering="crispEdges" d="M368.7 207.8h1.8v1h-1.8z"/>
<text x="72.65" y="257.5" text-anchor="middle" dx="0 -1.1">−150</text>
<line x1="154.5" y1="245.3" x2="154.5" y2="240.1" stroke="#000" stroke-width="1"/>
<text x="153.65" y="257.5" text-anchor="middle" dx="0 -1.1">−100</text>
<line x1="235.5" y1="245.3" x2="235.5" y2="240.1" stroke="#000" stroke-width="1"/>
<text x="234.65" y="257.5" text-anchor="middle" dx="0 -1.1">−50</text>
<line x1="315.5" y1="245.3" x2="315.5" y2="240.1" stroke="#000" stroke-width="1"/>
<text x="315.5" y="257.5" text-anchor="middle">0</text>
<line x1="396.5" y1="245.3" x2="396.5" y2="240.1" stroke="#000" stroke-width="1"/>
<text x="396.1" y="257.5" text-anchor="middle">50</text>
<line x1="477.5" y1="245.3" x2="477.5" y2="240.1" stroke="#000" stroke-width="1"/>
<text x="477.1" y="257.5" text-anchor="middle">100</text>
<text x="557.1" y="257.5" text-anchor="middle">150</text>
<text x="67.7" y="249" text-anchor="end">0</text>
<line x1="73.5" y1="201.5" x2="78.7" y2="201.5" stroke="#000" stroke-width="1"/>
<text x="67.7" y="205.1" text-anchor="end">10</text>
<text x="67.7" y="161.2" text-anchor="end">20</text>
<text x="45.8" y="202" text-anchor="middle" font-size="11.11" transform="rotate(-90 45.8 202)">Altitude, km</text>
<text x="315.4" y="263.9" text-anchor="middle" font-size="11.05">East-West, km</text>
<polyline fill="none" stroke="#000" stroke-width="1.75" stroke-linejoin="round" points="596.11,170.12 596.11,172.44 597.86,173.02 596.11,173.6 597.86,174.19 596.11,174.77 596.11,178.84 598.44,180 600.77,181.16 597.86,182.33 599.02,183.84 604.83,185 606.58,186.63 613.56,187.56 608.9,188.72 624.02,189.65 611.81,191.05 618.21,192.44 629.83,193.37 628.09,195.12 637.97,195.47 629.83,196.28 642.63,197.44 636.81,198.26 624.02,199.19 626.35,200.58 618.21,201.74 617.04,202.91 619.37,204.42 624.02,205 618.79,206.16 614.72,207.56 618.21,207.91 608.9,209.42 600.77,211.05 596.7,212.56 596.11,214.88 598.44,215.7 596.11,216.63 596.11,223.02 598.67,224.53 596.11,225.35 596.11,232.91 597.04,233.49 596.11,234.07 596.11,241.05"/>
<line x1="595.6" y1="242.5" x2="600.8" y2="242.5" stroke="#000" stroke-width="1"/>
<text x="589.9" y="245.8" text-anchor="end">0</text>
<line x1="595.6" y1="201.5" x2="600.8" y2="201.5" stroke="#000" stroke-width="1"/>
<text x="589.9" y="205.2" text-anchor="end">10</text>
<line x1="595.6" y1="161.5" x2="600.8" y2="161.5" stroke="#000" stroke-width="1"/>
<text x="589.9" y="165.2" text-anchor="end">20</text>
<text x="595.6" y="257.5" text-anchor="middle">0</text>
<line x1="642.5" y1="245.3" x2="642.5" y2="240.1" stroke="#000" stroke-width="1"/>
<text x="642.05" y="257.5" text-anchor="middle">50</text>
<text x="688.5" y="257.5" text-anchor="middle">100</text>
<rect x="595.6" y="157.5" width="92.9" height="87.8" fill="none" stroke="#000" stroke-width="1.15"/>
<text x="638.4" y="166" text-anchor="middle" font-size="8.33">951 sources</text>
<polyline fill="none" stroke="#c9c9c9" stroke-width="1.1" points="73.5,334.1 124.9,334.1 124.9,278.5 234.3,278.5 234.3,273.5"/>
<polyline fill="none" stroke="#c9c9c9" stroke-width="1.1" points="248.9,273.5 248.9,278.5 307.8,278.8 339.5,348.2 384.6,348.2 389.9,342.9 428.6,342.9 431.1,345.1 431.1,348.2 470.9,348.2 470.9,334.5 456.1,334.5 456.1,273.5"/>
<polyline fill="none" stroke="#c9c9c9" stroke-width="1.1" points="297.6,273.5 297.6,278.5"/>
<polyline fill="none" stroke="#c9c9c9" stroke-width="1.1" points="73.5,395.3 362.7,395.2 370.5,398.6 384.6,404.6 405.7,410.9 419.8,415.5 425.1,418 430.4,418"/>
<polyline fill="none" stroke="#c9c9c9" stroke-width="1.1" points="235.3,395.3 235.3,446.2 236.3,446.2 236.3,515.6 237.3,515.6 237.3,572.6"/>
<polyline fill="none" stroke="#c9c9c9" stroke-width="1.1" points="313.2,395.3 313.4,334.5 333.6,334.5"/>
<polyline fill="none" stroke="#c9c9c9" stroke-width="1.1" points="314.1,292.2 456.1,292.2"/>
<polyline fill="none" stroke="#c9c9c9" stroke-width="1.1" points="456.1,321.1 557.5,321.1"/>
<polyline fill="none" stroke="#c9c9c9" stroke-width="1.1" points="535.4,273.5 535.4,321.1"/>
<polyline fill="none" stroke="#c9c9c9" stroke-width="1.1" points="431.1,348.2 423.3,348.2 422.6,389.8 421.9,391.6 421.9,403.9 430.4,403.9 430.4,446.2 557.5,446.2"/>
<polyline fill="none" stroke="#c9c9c9" stroke-width="1.1" points="503.7,446.2 503.7,516.3 484.6,516.3 484.6,544.8 469.1,544.8 455,543.8 436.7,543.8 436.7,572.3 437.1,585.7 440.9,586.4 532.6,586.4 532.6,600.2 557.5,600.2"/>
<polyline fill="none" stroke="#c9c9c9" stroke-width="1.1" points="194.7,617.2 194.7,572.1 237.3,572.8 320,572.4 335.2,572.7 352.9,573.4 419.8,573.4 423.3,572.3 436.7,572.3"/>
<polyline fill="none" stroke="#c9c9c9" stroke-width="1.1" points="73.5,616.2 97.1,616.2 120.8,617.2 215.6,617.2 216,619 218.5,621.2 215.5,622.8 216.2,625.6 216.9,628.8 217.2,632.5 217.9,636 219.4,637.2 218.8,639.4 216.9,641.2 215.6,643.5 216.9,646.2 216,648.1 215.4,649.4 217.5,651.9 219.4,655 221.2,656.5 224.4,657.2 225.6,658.1 226.9,657.2 228.1,658.5 227.8,660.6 229.4,663.1 227.8,665.6 227.5,668.8 228.5,671.9 230,674.4 231.9,677.5 232.8,679.8 231.5,681.5 233.5,683.8 236.2,685.9 236.5,688.1 235.6,691.2 236.5,694.4 235.9,697.5 234.8,700 235.4,703.1 234.4,706.2 234.1,709.4"/>
<polyline fill="none" stroke="#c9c9c9" stroke-width="1.1" points="298.7,709.4 298.7,685.3 360.6,685.1 360.6,678 440.9,641.4"/>
<polyline fill="none" stroke="#c9c9c9" stroke-width="1.1" points="440.9,586.4 442,656.2 436.7,656.2 436.7,709.4"/>
<rect x="73.5" y="273.4" width="484" height="436" fill="none" stroke="#000" stroke-width="1.15"/>
<path fill="#ff55ff" shape-rendering="crispEdges" d="M136 361.61h1.9v1.5h-1.9zM152.26 364.29h1.9v1.5h-1.9zM146.98 365.75h1.9v1.5h-1.9zM138.85 370.23h1.9v1.5h-1.9zM140.88 371.61h1.9v1.5h-1.9zM138.85 373.23h1.9v1.5h-1.9zM146.98 373.23h1.9v1.5h-1.9zM136 374.62h1.9v1.5h-1.9zM139.25 374.62h1.9v1.5h-1.9zM140.88 374.62h1.9v1.5h-1.9zM138.85 376.08h1.9v1.5h-1.9zM140.88 376.08h1.9v1.5h-1.9zM155.51 376.08h1.9v1.5h-1.9zM157.14 376.08h1.9v1.5h-1.9zM153.48 377.71h1.9v1.5h-1.9zM129.5 379.17h1.9v1.5h-1.9zM143.32 379.17h1.9v1.5h-1.9zM145.35 379.17h1.9v1.5h-1.9zM157.14 381.93h1.9v1.5h-1.9zM154.7 383.4h1.9v1.5h-1.9zM163.64 383.4h1.9v1.5h-1.9zM157.14 384.78h1.9v1.5h-1.9zM155.51 386.24h1.9v1.5h-1.9zM157.95 386.24h1.9v1.5h-1.9zM154.7 387.62h1.9v1.5h-1.9zM157.14 390.47h1.9v1.5h-1.9zM157.14 391.93h1.9v1.5h-1.9zM160.39 391.93h1.9v1.5h-1.9zM162.02 393.4h1.9v1.5h-1.9zM157.14 396.24h1.9v1.5h-1.9zM375.34 284.63h1.9v1.5h-1.9zM376.81 284.63h1.9v1.5h-1.9zM365.55 286h1.9v1.5h-1.9zM373.87 287.56h1.9v1.5h-1.9zM375.34 287.56h1.9v1.5h-1.9zM368.59 288.44h1.9v1.5h-1.9zM364.08 290.01h1.9v1.5h-1.9zM369.96 289.82h1.9v1.5h-1.9zM372.89 291.63h1.9v1.5h-1.9zM365.8 294.71h1.9v1.5h-1.9zM367.27 294.71h1.9v1.5h-1.9zM368.73 294.71h1.9v1.5h-1.9zM370.2 294.71h1.9v1.5h-1.9zM363.99 300.68h1.9v1.5h-1.9zM365.45 306.16h1.9v1.5h-1.9zM123.05 272.95h1.9v1.5h-1.9zM191.75 272.95h1.9v1.5h-1.9zM211.45 272.25h1.9v1.5h-1.9zM373.45 272.25h1.9v1.5h-1.9zM191.35 279.45h1.9v1.5h-1.9zM194.35 281.35h1.9v1.5h-1.9zM199.35 281.35h1.9v1.5h-1.9zM199.35 286.25h1.9v1.5h-1.9zM193.25 277.55h1.9v1.5h-1.9zM196.05 284.25h1.9v1.5h-1.9zM327.95 282.45h1.9v1.5h-1.9zM249.45 348.45h1.9v1.5h-1.9zM129.54 379.66h1.9v1.5h-1.9zM142.42 379.66h1.9v1.5h-1.9zM144.05 379.66h1.9v1.5h-1.9zM145.68 379.66h1.9v1.5h-1.9zM135.96 381.08h1.9v1.5h-1.9zM131.12 383.03h1.9v1.5h-1.9zM137.87 383.03h1.9v1.5h-1.9zM139.29 383.03h1.9v1.5h-1.9zM142.75 383.03h1.9v1.5h-1.9zM144.17 383.03h1.9v1.5h-1.9zM150.68 383.03h1.9v1.5h-1.9zM131.12 384.53h1.9v1.5h-1.9zM140.84 386.08h1.9v1.5h-1.9zM152.1 386.08h1.9v1.5h-1.9zM131.12 387.58h1.9v1.5h-1.9zM131.12 389.09h1.9v1.5h-1.9zM148.89 389.09h1.9v1.5h-1.9zM127.91 390.63h1.9v1.5h-1.9zM127.91 392.05h1.9v1.5h-1.9zM129.54 392.05h1.9v1.5h-1.9zM147.26 392.05h1.9v1.5h-1.9zM147.26 393.48h1.9v1.5h-1.9zM152.1 393.48h1.9v1.5h-1.9zM131.12 396.65h1.9v1.5h-1.9zM134.01 396.65h1.9v1.5h-1.9zM150.51 396.65h1.9v1.5h-1.9zM143.56 398.03h1.9v1.5h-1.9zM145.19 398.03h1.9v1.5h-1.9zM146.81 398.03h1.9v1.5h-1.9zM132.38 399.25h1.9v1.5h-1.9zM135.96 399.25h1.9v1.5h-1.9zM140.84 399.25h1.9v1.5h-1.9zM145.68 399.25h1.9v1.5h-1.9zM137.59 402.01h1.9v1.5h-1.9zM139.21 402.01h1.9v1.5h-1.9zM140.84 402.01h1.9v1.5h-1.9z"/>
<path fill="#0000ff" shape-rendering="crispEdges" d="M152.26 365.75h1.9v1.5h-1.9zM152.26 367.14h1.9v1.5h-1.9zM138.85 371.61h1.9v1.5h-1.9zM146.57 374.62h1.9v1.5h-1.9zM146.98 376.08h1.9v1.5h-1.9zM153.48 376.08h1.9v1.5h-1.9zM146.98 377.71h1.9v1.5h-1.9zM154.7 381.93h1.9v1.5h-1.9zM157.14 389.09h1.9v1.5h-1.9zM159.58 393.4h1.9v1.5h-1.9zM369.96 284.63h1.9v1.5h-1.9zM367.02 286h1.9v1.5h-1.9zM369.96 287.56h1.9v1.5h-1.9zM364.08 288.69h1.9v1.5h-1.9zM367.02 288.69h1.9v1.5h-1.9zM368.49 290.01h1.9v1.5h-1.9zM372.06 289.82h1.9v1.5h-1.9zM367.02 287.47h1.9v1.5h-1.9zM138.4 381.08h1.9v1.5h-1.9zM139.21 381.08h1.9v1.5h-1.9zM142.42 381.08h1.9v1.5h-1.9zM147.26 381.08h1.9v1.5h-1.9zM148.89 381.08h1.9v1.5h-1.9zM145.39 383.03h1.9v1.5h-1.9zM144.05 384.53h1.9v1.5h-1.9zM148.89 384.53h1.9v1.5h-1.9zM134.38 386.08h1.9v1.5h-1.9zM135.96 386.08h1.9v1.5h-1.9zM148.89 386.08h1.9v1.5h-1.9zM150.07 387.58h1.9v1.5h-1.9zM152.1 390.63h1.9v1.5h-1.9zM147.02 395.1h1.9v1.5h-1.9zM142.42 396.65h1.9v1.5h-1.9zM137.59 398.03h1.9v1.5h-1.9zM139.21 398.03h1.9v1.5h-1.9zM137.59 399.25h1.9v1.5h-1.9zM139.21 399.25h1.9v1.5h-1.9zM140.84 400.59h1.9v1.5h-1.9z"/>
<path fill="#00ff00" shape-rendering="crispEdges" d="M143.97 370.23h1.9v1.5h-1.9zM145.35 371.61h1.9v1.5h-1.9zM155.11 389.09h1.9v1.5h-1.9zM368.59 291.63h1.9v1.5h-1.9zM149.05 383.03h1.9v1.5h-1.9zM145.68 386.08h1.9v1.5h-1.9zM147.02 389.09h1.9v1.5h-1.9zM143.16 393.48h1.9v1.5h-1.9zM144.58 393.48h1.9v1.5h-1.9z"/>
<path fill="#008040" shape-rendering="crispEdges" d="M143.97 371.61h1.9v1.5h-1.9zM144.54 373.23h1.9v1.5h-1.9zM369.96 291.63h1.9v1.5h-1.9zM142.42 386.08h1.9v1.5h-1.9zM150.51 386.08h1.9v1.5h-1.9zM134.01 389.09h1.9v1.5h-1.9zM137.59 389.09h1.9v1.5h-1.9zM129.54 390.63h1.9v1.5h-1.9zM134.62 390.63h1.9v1.5h-1.9zM136.25 390.63h1.9v1.5h-1.9zM137.46 390.63h1.9v1.5h-1.9zM145.68 390.63h1.9v1.5h-1.9zM131.12 393.48h1.9v1.5h-1.9zM135.96 393.48h1.9v1.5h-1.9zM140.84 393.48h1.9v1.5h-1.9zM145.68 393.48h1.9v1.5h-1.9zM132.75 395.1h1.9v1.5h-1.9zM137.59 395.1h1.9v1.5h-1.9z"/>
<path fill="#00ffff" shape-rendering="crispEdges" d="M140.88 373.23h1.9v1.5h-1.9zM140.88 377.71h1.9v1.5h-1.9zM140.88 379.17h1.9v1.5h-1.9zM368.59 286h1.9v1.5h-1.9zM369.47 293.09h1.9v1.5h-1.9zM140.84 379.66h1.9v1.5h-1.9zM142.42 384.53h1.9v1.5h-1.9zM152.1 384.53h1.9v1.5h-1.9zM139.21 387.58h1.9v1.5h-1.9zM148.89 390.63h1.9v1.5h-1.9zM145.68 392.05h1.9v1.5h-1.9zM131.12 395.1h1.9v1.5h-1.9zM134.01 395.1h1.9v1.5h-1.9zM142.42 395.1h1.9v1.5h-1.9zM140.84 398.03h1.9v1.5h-1.9zM134.01 399.25h1.9v1.5h-1.9zM139.21 400.59h1.9v1.5h-1.9z"/>
<path fill="#0080ff" shape-rendering="crispEdges" d="M143.97 374.62h1.9v1.5h-1.9zM143.97 376.08h1.9v1.5h-1.9zM152.26 376.08h1.9v1.5h-1.9zM137.63 379.17h1.9v1.5h-1.9zM158.36 390.47h1.9v1.5h-1.9zM373.63 288.69h1.9v1.5h-1.9zM367.02 290.01h1.9v1.5h-1.9zM137.59 379.66h1.9v1.5h-1.9zM152.1 383.03h1.9v1.5h-1.9zM147.26 384.53h1.9v1.5h-1.9zM144.05 386.08h1.9v1.5h-1.9zM132.75 387.58h1.9v1.5h-1.9zM134.21 387.58h1.9v1.5h-1.9zM140.84 387.58h1.9v1.5h-1.9zM144.38 387.58h1.9v1.5h-1.9zM140.84 389.09h1.9v1.5h-1.9zM153.72 389.09h1.9v1.5h-1.9zM147.26 390.63h1.9v1.5h-1.9zM132.38 398.03h1.9v1.5h-1.9z"/>
<path fill="#8000ff" shape-rendering="crispEdges" d="M197.05 282.45h1.9v1.5h-1.9z"/>
<path fill="#ffff00" shape-rendering="crispEdges" d="M147.02 383.03h1.9v1.5h-1.9zM147.02 386.08h1.9v1.5h-1.9zM135.96 387.58h1.9v1.5h-1.9zM132.38 389.09h1.9v1.5h-1.9zM135.96 389.09h1.9v1.5h-1.9zM142.42 389.09h1.9v1.5h-1.9zM144.05 389.09h1.9v1.5h-1.9zM140.84 390.63h1.9v1.5h-1.9zM135.96 392.05h1.9v1.5h-1.9zM137.59 392.05h1.9v1.5h-1.9zM132.75 393.48h1.9v1.5h-1.9zM134.01 393.48h1.9v1.5h-1.9zM137.59 393.48h1.9v1.5h-1.9zM139.21 393.48h1.9v1.5h-1.9zM135.96 395.1h1.9v1.5h-1.9zM140.84 395.1h1.9v1.5h-1.9zM139.21 396.65h1.9v1.5h-1.9zM140.84 396.65h1.9v1.5h-1.9z"/>
<path fill="#408080" shape-rendering="crispEdges" d="M139.21 389.09h1.9v1.5h-1.9zM139.21 392.05h1.9v1.5h-1.9z"/>
<path fill="#ffc080" shape-rendering="crispEdges" d="M145.39 389.09h1.9v1.5h-1.9zM139.21 390.63h1.9v1.5h-1.9zM131.12 392.05h1.9v1.5h-1.9zM132.75 392.05h1.9v1.5h-1.9zM134.38 392.05h1.9v1.5h-1.9zM140.84 392.05h1.9v1.5h-1.9zM139.21 395.1h1.9v1.5h-1.9z"/>
<path fill="#ff8000" shape-rendering="crispEdges" d="M132.75 390.63h1.9v1.5h-1.9zM142.55 390.63h1.9v1.5h-1.9zM144.05 390.63h1.9v1.5h-1.9zM142.55 392.05h1.9v1.5h-1.9zM144.05 392.05h1.9v1.5h-1.9z"/>
<rect x="369.35" y="299.45" width="5.9" height="5.9" fill="none" stroke="#7fff00" stroke-width="1.2"/>
<rect x="421.05" y="333.25" width="5.9" height="5.9" fill="none" stroke="#7fff00" stroke-width="1.2"/>
<rect x="490.15" y="329.45" width="5.9" height="5.9" fill="none" stroke="#7fff00" stroke-width="1.2"/>
<rect x="366.45" y="381.25" width="5.9" height="5.9" fill="none" stroke="#7fff00" stroke-width="1.2"/>
<rect x="327.35" y="453.05" width="5.9" height="5.9" fill="none" stroke="#7fff00" stroke-width="1.2"/>
<rect x="296.35" y="471.05" width="5.9" height="5.9" fill="none" stroke="#7fff00" stroke-width="1.2"/>
<rect x="327.35" y="471.05" width="5.9" height="5.9" fill="none" stroke="#7fff00" stroke-width="1.2"/>
<rect x="282.45" y="483.85" width="5.9" height="5.9" fill="none" stroke="#7fff00" stroke-width="1.2"/>
<rect x="300.45" y="483.25" width="5.9" height="5.9" fill="none" stroke="#7fff00" stroke-width="1.2"/>
<rect x="291.35" y="489.95" width="5.9" height="5.9" fill="none" stroke="#7fff00" stroke-width="1.2"/>
<rect x="312.25" y="488.05" width="5.9" height="5.9" fill="none" stroke="#7fff00" stroke-width="1.2"/>
<rect x="333.35" y="486.25" width="5.9" height="5.9" fill="none" stroke="#7fff00" stroke-width="1.2"/>
<rect x="356.25" y="482.25" width="5.9" height="5.9" fill="none" stroke="#7fff00" stroke-width="1.2"/>
<rect x="327.35" y="506.25" width="5.9" height="5.9" fill="none" stroke="#7fff00" stroke-width="1.2"/>
<rect x="335.45" y="523.25" width="5.9" height="5.9" fill="none" stroke="#7fff00" stroke-width="1.2"/>
<rect x="322.45" y="543.25" width="5.9" height="5.9" fill="none" stroke="#7fff00" stroke-width="1.2"/>
<line x1="120.5" y1="709.4" x2="120.5" y2="704.2" stroke="#000" stroke-width="1"/>
<text x="119.75" y="721.7" text-anchor="middle" dx="0 -1.1">−108.5</text>
<line x1="194.5" y1="709.4" x2="194.5" y2="704.2" stroke="#000" stroke-width="1"/>
<text x="194.05" y="721.7" text-anchor="middle" dx="0 -1.1">−108.0</text>
<line x1="269.5" y1="709.4" x2="269.5" y2="704.2" stroke="#000" stroke-width="1"/>
<text x="268.55" y="721.7" text-anchor="middle" dx="0 -1.1">−107.5</text>
<line x1="343.5" y1="709.4" x2="343.5" y2="704.2" stroke="#000" stroke-width="1"/>
<text x="342.75" y="721.7" text-anchor="middle" dx="0 -1.1">−107.0</text>
<line x1="418.5" y1="709.4" x2="418.5" y2="704.2" stroke="#000" stroke-width="1"/>
<text x="417.85" y="721.7" text-anchor="middle" dx="0 -1.1">−106.5</text>
<line x1="493.5" y1="709.4" x2="493.5" y2="704.2" stroke="#000" stroke-width="1"/>
<text x="492.55" y="721.7" text-anchor="middle" dx="0 -1.1">−106.0</text>
<line x1="73.5" y1="328.5" x2="78.7" y2="328.5" stroke="#000" stroke-width="1"/>
<text x="67.7" y="332.2" text-anchor="end">35.0</text>
<line x1="73.5" y1="408.5" x2="78.7" y2="408.5" stroke="#000" stroke-width="1"/>
<text x="67.7" y="412.6" text-anchor="end">34.5</text>
<line x1="73.5" y1="489.5" x2="78.7" y2="489.5" stroke="#000" stroke-width="1"/>
<text x="67.7" y="493" text-anchor="end">34.0</text>
<line x1="73.5" y1="569.5" x2="78.7" y2="569.5" stroke="#000" stroke-width="1"/>
<text x="67.7" y="573.4" text-anchor="end">33.5</text>
<line x1="73.5" y1="650.5" x2="78.7" y2="650.5" stroke="#000" stroke-width="1"/>
<text x="67.7" y="653.8" text-anchor="end">33.0</text>
<text x="315.2" y="740.9" text-anchor="middle" font-size="11">Longitude</text>
<text x="36.1" y="493" text-anchor="middle" font-size="11.11" transform="rotate(-90 36.1 493)">Latitude</text>
<line x1="641.35" y1="273.4" x2="641.35" y2="709.4" stroke="#eeeeee" stroke-width="1.6"/>
<line x1="595.6" y1="346.05" x2="688.5" y2="346.05" stroke="#eeeeee" stroke-width="1.6"/>
<line x1="595.6" y1="418.05" x2="688.5" y2="418.05" stroke="#eeeeee" stroke-width="1.6"/>
<line x1="595.6" y1="491.05" x2="688.5" y2="491.05" stroke="#eeeeee" stroke-width="1.6"/>
<line x1="595.6" y1="563.05" x2="688.5" y2="563.05" stroke="#eeeeee" stroke-width="1.6"/>
<line x1="595.6" y1="636.05" x2="688.5" y2="636.05" stroke="#eeeeee" stroke-width="1.6"/>
<rect x="595.6" y="273.4" width="92.9" height="436" fill="none" stroke="#000" stroke-width="1.15"/>
<path fill="#0080ff" shape-rendering="crispEdges" d="M655 389.64h1v1.45h-1zM647 389.64h1v1.45h-1zM641 391.09h1v1.45h-1zM652 392.55h1v1.45h-1zM653 394h1v1.45h-1zM649 388.19h1v1.45h-1zM639 394h1v1.45h-1zM646 394h1v1.45h-1zM647 388.19h1v1.45h-1zM641 392.55h1v1.45h-1zM655 392.55h1v1.45h-1zM640 392.55h1v1.45h-1zM643 394h1v1.45h-1zM649 396.9h1v1.45h-1zM640 388.19h1v1.45h-1zM638 385.28h1v1.45h-1zM638 391.09h1v1.45h-1zM639 389.64h1v1.45h-1zM654 386.73h1v1.45h-1zM635 391.09h1v1.45h-1zM645 386.73h1v1.45h-1zM635 389.64h1v1.45h-1zM627 392.55h1v1.45h-1zM656 391.09h1v1.45h-1zM653 388.19h1v1.45h-1zM626 389.64h1v1.45h-1zM644 376.56h1v1.45h-1zM643 373.66h1v1.45h-1zM639 382.38h1v1.45h-1zM648 370.75h1v1.45h-1z"/>
<path fill="#ffff00" shape-rendering="crispEdges" d="M646 392.55h1v1.45h-1zM646 391.09h1v1.45h-1zM650 392.55h1v1.45h-1zM644 391.09h1v1.45h-1zM651 392.55h1v1.45h-1z"/>
<path fill="#008040" shape-rendering="crispEdges" d="M645 392.55h1v1.45h-1zM645 391.09h1v1.45h-1zM648 391.09h1v1.45h-1zM642 392.55h1v1.45h-1zM654 391.09h1v1.45h-1zM647 391.09h1v1.45h-1zM644 392.55h1v1.45h-1zM645 389.64h1v1.45h-1zM647 392.55h1v1.45h-1zM648 392.55h1v1.45h-1zM650 391.09h1v1.45h-1zM644 389.64h1v1.45h-1z"/>
<path fill="#0000ff" shape-rendering="crispEdges" d="M635 394h1v1.45h-1zM653 392.55h1v1.45h-1zM640 389.64h1v1.45h-1zM653 389.64h1v1.45h-1zM657 391.09h1v1.45h-1zM643 388.19h1v1.45h-1zM653 391.09h1v1.45h-1zM651 388.19h1v1.45h-1zM651 391.09h1v1.45h-1zM657 392.55h1v1.45h-1zM656 392.55h1v1.45h-1zM646 396.9h1v1.45h-1zM656 388.19h1v1.45h-1zM658 388.19h1v1.45h-1zM633 389.64h1v1.45h-1zM650 395.45h1v1.45h-1zM649 389.64h1v1.45h-1zM626 394h1v1.45h-1zM637 391.09h1v1.45h-1zM648 389.64h1v1.45h-1zM634 392.55h1v1.45h-1zM637 392.55h1v1.45h-1zM644 383.83h1v1.45h-1zM658 392.55h1v1.45h-1zM636 389.64h1v1.45h-1zM655 394h1v1.45h-1zM648 388.19h1v1.45h-1zM642 386.73h1v1.45h-1zM654 385.28h1v1.45h-1zM644 388.19h1v1.45h-1zM638 388.19h1v1.45h-1zM637 394h1v1.45h-1zM630 388.19h1v1.45h-1zM640 395.45h1v1.45h-1zM643 395.45h1v1.45h-1zM653 395.45h1v1.45h-1zM645 398.36h1v1.45h-1zM641 385.28h1v1.45h-1zM636 395.45h1v1.45h-1zM647 395.45h1v1.45h-1zM649 398.36h1v1.45h-1zM631 391.09h1v1.45h-1zM640 385.28h1v1.45h-1zM653 386.73h1v1.45h-1zM642 383.83h1v1.45h-1zM646 382.38h1v1.45h-1zM644 385.28h1v1.45h-1zM647 380.92h1v1.45h-1zM641 382.38h1v1.45h-1zM659 394h1v1.45h-1zM640 383.83h1v1.45h-1zM649 383.83h1v1.45h-1zM648 380.92h1v1.45h-1zM647 382.38h1v1.45h-1zM651 379.47h1v1.45h-1zM646 383.83h1v1.45h-1zM643 376.56h1v1.45h-1zM650 372.2h1v1.45h-1zM644 378.02h1v1.45h-1zM648 373.66h1v1.45h-1zM644 375.11h1v1.45h-1zM648 378.02h1v1.45h-1zM642 369.3h1v1.45h-1zM612 392.55h1v1.45h-1zM679 392.55h1v1.45h-1zM673 389.64h1v1.45h-1z"/>
<path fill="#ff55ff" shape-rendering="crispEdges" d="M649 394h1v1.45h-1zM640 391.09h1v1.45h-1zM655 388.19h1v1.45h-1zM638 396.9h1v1.45h-1zM639 395.45h1v1.45h-1zM647 396.9h1v1.45h-1zM657 388.19h1v1.45h-1zM659 396.9h1v1.45h-1zM642 391.09h1v1.45h-1zM653 396.9h1v1.45h-1zM634 386.73h1v1.45h-1zM659 389.64h1v1.45h-1zM658 389.64h1v1.45h-1zM651 396.9h1v1.45h-1zM640 396.9h1v1.45h-1zM632 391.09h1v1.45h-1zM640 386.73h1v1.45h-1zM657 394h1v1.45h-1zM631 392.55h1v1.45h-1zM646 395.45h1v1.45h-1zM652 394h1v1.45h-1zM627 389.64h1v1.45h-1zM642 396.9h1v1.45h-1zM638 394h1v1.45h-1zM658 386.73h1v1.45h-1zM655 395.45h1v1.45h-1zM636 388.19h1v1.45h-1zM657 389.64h1v1.45h-1zM633 395.45h1v1.45h-1zM635 392.55h1v1.45h-1zM637 389.64h1v1.45h-1zM661 392.55h1v1.45h-1zM644 395.45h1v1.45h-1zM658 394h1v1.45h-1zM639 392.55h1v1.45h-1zM657 385.28h1v1.45h-1zM641 399.81h1v1.45h-1zM654 395.45h1v1.45h-1zM632 395.45h1v1.45h-1zM620 388.19h1v1.45h-1zM656 389.64h1v1.45h-1zM637 386.73h1v1.45h-1zM631 389.64h1v1.45h-1zM630 392.55h1v1.45h-1zM632 386.73h1v1.45h-1zM651 394h1v1.45h-1zM629 394h1v1.45h-1zM633 392.55h1v1.45h-1zM634 395.45h1v1.45h-1zM639 386.73h1v1.45h-1zM664 383.83h1v1.45h-1zM646 388.19h1v1.45h-1zM643 396.9h1v1.45h-1zM635 388.19h1v1.45h-1zM641 388.19h1v1.45h-1zM647 386.73h1v1.45h-1zM642 388.19h1v1.45h-1zM636 392.55h1v1.45h-1zM654 388.19h1v1.45h-1zM634 394h1v1.45h-1zM628 388.19h1v1.45h-1zM637 395.45h1v1.45h-1zM650 398.36h1v1.45h-1zM641 386.73h1v1.45h-1zM641 395.45h1v1.45h-1zM641 383.83h1v1.45h-1zM646 385.28h1v1.45h-1zM636 396.9h1v1.45h-1zM632 383.83h1v1.45h-1zM652 378.02h1v1.45h-1zM631 385.28h1v1.45h-1zM633 386.73h1v1.45h-1zM638 383.83h1v1.45h-1zM660 379.47h1v1.45h-1zM647 379.47h1v1.45h-1zM651 383.83h1v1.45h-1zM632 392.55h1v1.45h-1zM638 395.45h1v1.45h-1zM625 395.45h1v1.45h-1zM655 382.38h1v1.45h-1zM647 399.81h1v1.45h-1zM655 375.11h1v1.45h-1zM645 395.45h1v1.45h-1zM644 386.73h1v1.45h-1zM628 378.02h1v1.45h-1zM643 399.81h1v1.45h-1zM622 376.56h1v1.45h-1zM651 378.02h1v1.45h-1zM636 383.83h1v1.45h-1zM631 382.38h1v1.45h-1zM635 383.83h1v1.45h-1zM663 396.9h1v1.45h-1zM623 386.73h1v1.45h-1zM635 382.38h1v1.45h-1zM622 383.83h1v1.45h-1zM636 394h1v1.45h-1zM640 378.02h1v1.45h-1zM653 385.28h1v1.45h-1zM632 388.19h1v1.45h-1zM666 394h1v1.45h-1zM648 385.28h1v1.45h-1zM629 382.38h1v1.45h-1zM651 385.28h1v1.45h-1zM645 396.9h1v1.45h-1zM662 388.19h1v1.45h-1zM651 386.73h1v1.45h-1zM625 392.55h1v1.45h-1zM654 392.55h1v1.45h-1zM648 386.73h1v1.45h-1zM658 385.28h1v1.45h-1zM635 386.73h1v1.45h-1zM656 394h1v1.45h-1zM624 391.09h1v1.45h-1zM650 379.47h1v1.45h-1zM651 382.38h1v1.45h-1zM659 385.28h1v1.45h-1zM636 382.38h1v1.45h-1zM648 395.45h1v1.45h-1zM645 385.28h1v1.45h-1zM643 383.83h1v1.45h-1zM637 383.83h1v1.45h-1zM660 394h1v1.45h-1zM652 385.28h1v1.45h-1zM661 388.19h1v1.45h-1zM637 388.19h1v1.45h-1zM649 385.28h1v1.45h-1zM645 383.83h1v1.45h-1zM631 386.73h1v1.45h-1zM663 395.45h1v1.45h-1zM663 386.73h1v1.45h-1zM636 379.47h1v1.45h-1zM635 385.28h1v1.45h-1zM648 375.11h1v1.45h-1zM649 378.02h1v1.45h-1zM652 373.66h1v1.45h-1zM646 376.56h1v1.45h-1zM635 363.49h1v1.45h-1zM648 369.3h1v1.45h-1zM653 380.92h1v1.45h-1zM644 370.75h1v1.45h-1zM644 362.03h1v1.45h-1zM639 378.02h1v1.45h-1zM642 373.66h1v1.45h-1zM639 385.28h1v1.45h-1zM640 379.47h1v1.45h-1zM649 373.66h1v1.45h-1zM638 373.66h1v1.45h-1zM644 363.49h1v1.45h-1zM645 367.85h1v1.45h-1zM642 376.56h1v1.45h-1zM638 369.3h1v1.45h-1zM635 354.77h1v1.45h-1zM642 370.75h1v1.45h-1zM646 369.3h1v1.45h-1zM632 376.56h1v1.45h-1zM652 366.39h1v1.45h-1zM645 369.3h1v1.45h-1zM648 366.39h1v1.45h-1zM640 376.56h1v1.45h-1zM644 369.3h1v1.45h-1zM655 383.83h1v1.45h-1zM655 379.47h1v1.45h-1zM652 380.92h1v1.45h-1zM641 370.75h1v1.45h-1zM650 382.38h1v1.45h-1zM647 385.28h1v1.45h-1zM647 369.3h1v1.45h-1zM645 382.38h1v1.45h-1zM644 373.66h1v1.45h-1zM636 367.85h1v1.45h-1zM653 376.56h1v1.45h-1zM647 370.75h1v1.45h-1zM643 359.13h1v1.45h-1zM630 369.3h1v1.45h-1zM643 369.3h1v1.45h-1zM641 376.56h1v1.45h-1zM631 373.66h1v1.45h-1zM638 367.85h1v1.45h-1zM643 378.02h1v1.45h-1zM651 380.92h1v1.45h-1zM635 375.11h1v1.45h-1zM644 382.38h1v1.45h-1zM648 372.2h1v1.45h-1zM644 372.2h1v1.45h-1zM629 375.11h1v1.45h-1zM645 376.56h1v1.45h-1zM653 367.85h1v1.45h-1zM640 380.92h1v1.45h-1zM635 379.47h1v1.45h-1zM647 378.02h1v1.45h-1zM621 391.09h1v1.45h-1zM611 396.9h1v1.45h-1zM615 395.45h1v1.45h-1zM611 394h1v1.45h-1zM613 391.09h1v1.45h-1zM607 391.09h1v1.45h-1zM604 392.55h1v1.45h-1zM611 391.09h1v1.45h-1zM610 388.19h1v1.45h-1zM624 394h1v1.45h-1zM612 391.09h1v1.45h-1zM617 399.81h1v1.45h-1zM630 398.36h1v1.45h-1zM616 388.19h1v1.45h-1zM619 392.55h1v1.45h-1zM619 383.83h1v1.45h-1zM629 388.19h1v1.45h-1zM605 388.19h1v1.45h-1zM612 388.19h1v1.45h-1zM598 383.83h1v1.45h-1zM618 391.09h1v1.45h-1zM623 391.09h1v1.45h-1zM614 388.19h1v1.45h-1zM636 391.09h1v1.45h-1zM635 396.9h1v1.45h-1zM619 386.73h1v1.45h-1zM634 396.9h1v1.45h-1zM613 385.28h1v1.45h-1zM664 395.45h1v1.45h-1zM667 385.28h1v1.45h-1zM671 388.19h1v1.45h-1zM667 395.45h1v1.45h-1zM678 388.19h1v1.45h-1zM668 380.92h1v1.45h-1zM662 395.45h1v1.45h-1zM670 391.09h1v1.45h-1zM681 395.45h1v1.45h-1zM674 392.55h1v1.45h-1zM670 385.28h1v1.45h-1zM677 380.92h1v1.45h-1zM660 385.28h1v1.45h-1zM672 388.19h1v1.45h-1zM666 391.09h1v1.45h-1z"/>
<path fill="#00ffff" shape-rendering="crispEdges" d="M643 391.09h1v1.45h-1zM650 389.64h1v1.45h-1zM652 389.64h1v1.45h-1zM639 391.09h1v1.45h-1zM652 391.09h1v1.45h-1zM638 392.55h1v1.45h-1zM650 394h1v1.45h-1zM655 391.09h1v1.45h-1zM651 389.64h1v1.45h-1zM647 394h1v1.45h-1zM654 394h1v1.45h-1zM639 388.19h1v1.45h-1zM642 389.64h1v1.45h-1zM643 385.28h1v1.45h-1zM641 389.64h1v1.45h-1z"/>
<path fill="#408080" shape-rendering="crispEdges" d="M642 394h1v1.45h-1zM649 391.09h1v1.45h-1zM643 389.64h1v1.45h-1zM649 392.55h1v1.45h-1z"/>
<path fill="#00ff00" shape-rendering="crispEdges" d="M648 394h1v1.45h-1zM643 392.55h1v1.45h-1zM646 389.64h1v1.45h-1zM650 388.19h1v1.45h-1zM644 394h1v1.45h-1zM638 389.64h1v1.45h-1zM646 386.73h1v1.45h-1z"/>
<path fill="#ff55ff" shape-rendering="crispEdges" d="M631 272.9h1v1.45h-1zM638 272.9h1v1.45h-1zM640 275.68h1v1.45h-1zM634 278.73h1v1.45h-1zM648 278.73h1v1.45h-1zM644 281.77h1v1.45h-1zM636 281.86h1v2.91h-1zM629 282.61h1v2.91h-1zM648 282.61h1v2.91h-1zM657 282.61h1v2.91h-1zM634 284.48h1v1.45h-1zM641 286.31h1v1.45h-1zM647 285.05h1v2.91h-1zM636 285.84h1v1.45h-1zM637 286.31h1v1.45h-1zM638 286.31h1v1.45h-1zM632 288.21h1v1.45h-1zM631 288.55h1v1.45h-1zM638 288.55h1v1.45h-1zM630 291.6h1v1.45h-1zM631 291.6h1v1.45h-1zM633 292.23h1v2.91h-1zM640 292.36h1v2.91h-1zM654 289.38h1v2.91h-1zM617 294.65h1v1.45h-1zM634 294.65h1v1.45h-1zM637 294.65h1v1.45h-1zM654 300.75h1v1.45h-1zM646 305.44h1v2.91h-1zM624 348.77h1v1.45h-1zM688 396.47h1v1.45h-1z"/>
<path fill="#0000ff" shape-rendering="crispEdges" d="M640 284.91h1v2.91h-1zM634 285.72h1v2.91h-1zM636 287.53h1v1.45h-1zM633 288.98h1v2.91h-1zM635 290.24h1v1.45h-1zM637 289.99h1v2.91h-1zM635 292.36h1v2.91h-1zM636 292.36h1v2.91h-1z"/>
<path fill="#008040" shape-rendering="crispEdges" d="M634 289.02h1v1.45h-1z"/>
<path fill="#00ffff" shape-rendering="crispEdges" d="M634 291.46h1v1.45h-1z"/>
<path fill="#00ff00" shape-rendering="crispEdges" d="M637 291.6h1v1.45h-1z"/>
<text x="595.6" y="721.7" text-anchor="middle">0</text>
<line x1="641.5" y1="709.4" x2="641.5" y2="704.2" stroke="#000" stroke-width="1"/>
<text x="640.8" y="721.7" text-anchor="middle">10</text>
<text x="687.4" y="721.7" text-anchor="middle">20</text>
<text x="589.7" y="277.1" text-anchor="end" dx="0 -0.6">150</text>
<line x1="595.6" y1="346.5" x2="600.8" y2="346.5" stroke="#000" stroke-width="1"/>
<text x="589.7" y="350.1" text-anchor="end" dx="0 -0.6">100</text>
<line x1="595.6" y1="418.5" x2="600.8" y2="418.5" stroke="#000" stroke-width="1"/>
<text x="589.7" y="422.1" text-anchor="end" dx="0 -0.6">50</text>
<line x1="595.6" y1="491.5" x2="600.8" y2="491.5" stroke="#000" stroke-width="1"/>
<text x="589.7" y="495.1" text-anchor="end" dx="0 -0.6">0</text>
<line x1="595.6" y1="563.5" x2="600.8" y2="563.5" stroke="#000" stroke-width="1"/>
<text x="589" y="567.1" text-anchor="end" dx="0 -0.6">−50</text>
<line x1="595.6" y1="636.5" x2="600.8" y2="636.5" stroke="#000" stroke-width="1"/>
<text x="589" y="640.1" text-anchor="end" dx="0 -0.6">−100</text>
<text x="589" y="713.1" text-anchor="end" dx="0 -0.6">−150</text>
<text x="641" y="740.9" text-anchor="middle" font-size="11">Altitude, km</text>
<text x="700.1" y="492" text-anchor="middle" font-size="11.11" transform="rotate(-90 700.1 492)">North-South, km</text>
<rect x="68.5" y="763.4" width="22.8" height="24.9" fill="#ff55ff"/>
<rect x="91" y="763.4" width="47.3" height="24.9" fill="#8000ff"/>
<rect x="138" y="763.4" width="47.3" height="24.9" fill="#0000ff"/>
<rect x="185" y="763.4" width="24.3" height="24.9" fill="#0080ff"/>
<rect x="209" y="763.4" width="23.3" height="24.9" fill="#00ffff"/>
<rect x="232" y="763.4" width="24.3" height="24.9" fill="#00ff00"/>
<rect x="256" y="763.4" width="24.3" height="24.9" fill="#008040"/>
<rect x="280" y="763.4" width="23.3" height="24.9" fill="#408080"/>
<rect x="303" y="763.4" width="24.3" height="24.9" fill="#ffff00"/>
<rect x="327" y="763.4" width="23.3" height="24.9" fill="#ffc080"/>
<rect x="350" y="763.4" width="24.3" height="24.9" fill="#ff8000"/>
<rect x="374" y="763.4" width="24.3" height="24.9" fill="#ff0080"/>
<rect x="398" y="763.4" width="23.3" height="24.9" fill="#ff0000"/>
<rect x="421" y="763.4" width="24.3" height="24.9" fill="#c00000"/>
<rect x="445" y="763.4" width="24.3" height="24.9" fill="#800000"/>
<rect x="469" y="763.4" width="23.3" height="24.9" fill="#000000"/>
<rect x="492" y="763.4" width="24.3" height="24.9" fill="#808080"/>
<rect x="516" y="763.4" width="23.3" height="24.9" fill="#c0c0c0"/>
<rect x="539" y="763.4" width="25.5" height="24.9" fill="#ffffff"/>
<line x1="142.5" y1="788.3" x2="142.5" y2="785.5" stroke="#000" stroke-width="1"/>
<line x1="186.5" y1="788.3" x2="186.5" y2="785.5" stroke="#000" stroke-width="1"/>
<line x1="217.5" y1="788.3" x2="217.5" y2="785.5" stroke="#000" stroke-width="1"/>
<line x1="241.5" y1="788.3" x2="241.5" y2="785.5" stroke="#000" stroke-width="1"/>
<line x1="261.5" y1="788.3" x2="261.5" y2="785.5" stroke="#000" stroke-width="1"/>
<line x1="277.5" y1="788.3" x2="277.5" y2="785.5" stroke="#000" stroke-width="1"/>
<line x1="292.5" y1="788.3" x2="292.5" y2="785.5" stroke="#000" stroke-width="1"/>
<line x1="304.5" y1="788.3" x2="304.5" y2="785.5" stroke="#000" stroke-width="1"/>
<line x1="316.5" y1="788.3" x2="316.5" y2="783.1" stroke="#000" stroke-width="1"/>
<line x1="390.5" y1="788.3" x2="390.5" y2="785.5" stroke="#000" stroke-width="1"/>
<line x1="434.5" y1="788.3" x2="434.5" y2="785.5" stroke="#000" stroke-width="1"/>
<line x1="465.5" y1="788.3" x2="465.5" y2="785.5" stroke="#000" stroke-width="1"/>
<line x1="489.5" y1="788.3" x2="489.5" y2="785.5" stroke="#000" stroke-width="1"/>
<line x1="509.5" y1="788.3" x2="509.5" y2="785.5" stroke="#000" stroke-width="1"/>
<line x1="525.5" y1="788.3" x2="525.5" y2="785.5" stroke="#000" stroke-width="1"/>
<line x1="540.5" y1="788.3" x2="540.5" y2="785.5" stroke="#000" stroke-width="1"/>
<line x1="552.5" y1="788.3" x2="552.5" y2="785.5" stroke="#000" stroke-width="1"/>
<rect x="68.5" y="763.4" width="496" height="24.9" fill="none" stroke="#000" stroke-width="1.15"/>
<text x="67.6" y="802" text-anchor="middle">1</text>
<text x="316" y="802" text-anchor="middle">10</text>
<text x="563.6" y="802" text-anchor="middle">100</text>
<text x="583" y="784.2" font-size="16">Sources/km<tspan font-size="10.4" dy="-5.2" dx="-0.3">2</tspan></text>
</svg>
</body></html>
